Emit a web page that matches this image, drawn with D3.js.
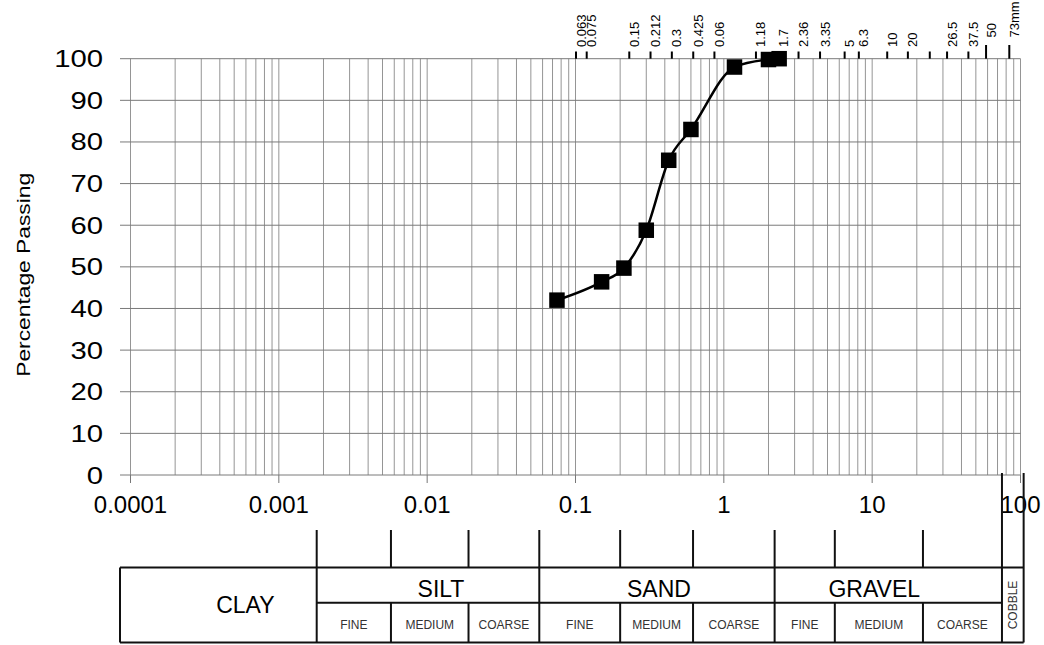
<!DOCTYPE html>
<html>
<head>
<meta charset="utf-8">
<script src="https://cdn.jsdelivr.net/npm/d3@7"></script>
<style>
  body { margin: 0; background: #fff; }
  text { font-family: "Liberation Sans", Arial, sans-serif; fill: #000; }
</style>
</head>
<body>
<div id="chart"></div>
<script>
// Sieve test results: particle size (mm) and percentage passing
const sieveSizes = [0.075, 0.15, 0.212, 0.3, 0.425, 0.6, 1.18, 2.0, 2.36];
const percentPassing = [42, 46.4, 49.7, 58.8, 75.6, 83.0, 98.0, 99.8, 100];

// Bottom axis decades and y ticks
const decadeTicks = [0.0001, 0.001, 0.01, 0.1, 1, 10, 100];
const decadeLabels = ["0.0001", "0.001", "0.01", "0.1", "1", "10", "100"];
const percentTicks = [0, 10, 20, 30, 40, 50, 60, 70, 80, 90, 100];

// Top axis: sieve apertures as printed on the sheet
const topTickValues = [0.063, 0.075, 0.15, 0.212, 0.3, 0.425, 0.6, 1.18, 1.7, 2.36, 3.35, 5, 6.3, 10, 14, 20, 26.5, 37.5, 50, 73];
const topTickLabels = ["0.063", "0.075", "0.15", "0.212", "0.3", "0.425", "0.06", "1.18", "1.7", "2.36", "3.35", "5", "6.3", "10", "20", "", "26.5", "37.5", "50", "73mm"];
const topLongTicks = [50, 73];

// Soil classification boundaries (mm) and names
const classBounds = [0.0018, 0.0057, 0.019, 0.057, 0.2, 0.62, 2.2, 5.6, 22, 75, 105];
const mainClasses = ["SILT", "SAND", "GRAVEL"];
const subClasses = ["FINE", "MEDIUM", "COARSE"];

const W = 1044, H = 645;
const plotLeft = 120;
const tableTop = 567.5, tableMid = 602.7, tableBottom = 642.5;

const svg = d3.select("#chart")
  .append("svg")
  .attr("width", W)
  .attr("height", H);

const x = d3.scaleLog().domain([0.0001, 100]).range([130.5, 1020.5]);
const y = d3.scaleLinear().domain([0, 100]).range([475, 58.7]);
const xTop = d3.scaleLog().domain([0.063, 73]).range([576, 1009.3]);

// Vertical grid (log cycles)
svg.append("g")
  .selectAll("line")
  .data(x.ticks())
  .enter()
  .append("line")
  .attr("x1", d => x(d)).attr("x2", d => x(d))
  .attr("y1", y(0)).attr("y2", y(100))
  .attr("stroke", "#959595")
  .attr("stroke-width", 1);

// Horizontal grid
svg.append("g")
  .selectAll("line")
  .data(percentTicks)
  .enter()
  .append("line")
  .attr("x1", plotLeft).attr("x2", x(100))
  .attr("y1", d => y(d)).attr("y2", d => y(d))
  .attr("stroke", "#7a7a7a")
  .attr("stroke-width", 1);

// Decade ticks below the axis
svg.append("g")
  .selectAll("line")
  .data(decadeTicks)
  .enter()
  .append("line")
  .attr("x1", d => x(d)).attr("x2", d => x(d))
  .attr("y1", y(0)).attr("y2", y(0) + 8)
  .attr("stroke", "#777")
  .attr("stroke-width", 1);

// Bottom axis labels
svg.append("g")
  .selectAll("text")
  .data(decadeTicks)
  .enter()
  .append("text")
  .attr("x", d => x(d))
  .attr("y", 513)
  .attr("text-anchor", "middle")
  .style("font-size", "24px")
  .text((d, i) => decadeLabels[i]);

// Y axis labels (stretched a little, as on the sheet)
svg.append("g")
  .selectAll("text")
  .data(percentTicks)
  .enter()
  .append("text")
  .attr("transform", d => `translate(103,${y(d) + 8.5}) scale(1.22,1)`)
  .attr("text-anchor", "end")
  .style("font-size", "24px")
  .text(d => d);

svg.append("text")
  .attr("transform", `translate(30,${(y(0) + y(100)) / 2 + 8}) rotate(-90) scale(1.2,1)`)
  .attr("text-anchor", "middle")
  .style("font-size", "19px")
  .text("Percentage Passing");

// Top sieve ticks and labels
const topAxis = svg.append("g");
topAxis.selectAll("line")
  .data(topTickValues)
  .enter()
  .append("line")
  .attr("x1", d => xTop(d)).attr("x2", d => xTop(d))
  .attr("y1", d => topLongTicks.includes(d) ? 45 : 51.5)
  .attr("y2", y(100))
  .attr("stroke", "#000")
  .attr("stroke-width", 2);

topAxis.selectAll("text")
  .data(topTickValues)
  .enter()
  .append("text")
  .attr("transform", d => `translate(${xTop(d) + 9.5},${topLongTicks.includes(d) ? 37.5 : 47}) rotate(-90)`)
  .attr("text-anchor", "start")
  .style("font-size", "13px")
  .text((d, i) => topTickLabels[i]);

// Grading curve
const points = sieveSizes.map((s, i) => ({ size: s, pct: percentPassing[i] }));

svg.append("path")
  .datum(points)
  .attr("fill", "none")
  .attr("stroke", "#000")
  .attr("stroke-width", 2.5)
  .attr("d", d3.line()
    .x(d => x(d.size))
    .y(d => y(d.pct))
    .curve(d3.curveMonotoneX));

const ms = 15.5;
svg.append("g")
  .selectAll("rect")
  .data(points)
  .enter()
  .append("rect")
  .attr("x", d => x(d.size) - ms / 2)
  .attr("y", d => y(d.pct) - ms / 2)
  .attr("width", ms)
  .attr("height", ms)
  .attr("fill", "#000");

// Classification table
const table = svg.append("g")
  .attr("stroke", "#111")
  .attr("stroke-width", 2);

const xEnd = x(classBounds[10]);
table.append("line").attr("x1", plotLeft).attr("x2", xEnd).attr("y1", tableTop).attr("y2", tableTop);
table.append("line").attr("x1", plotLeft).attr("x2", xEnd).attr("y1", tableBottom).attr("y2", tableBottom);
table.append("line").attr("x1", plotLeft).attr("x2", plotLeft).attr("y1", tableTop).attr("y2", tableBottom);
table.append("line")
  .attr("x1", x(classBounds[0])).attr("x2", x(classBounds[9]))
  .attr("y1", tableMid).attr("y2", tableMid);

const mainIdx = [0, 3, 6];
table.selectAll(".bound")
  .data(classBounds)
  .enter()
  .append("line")
  .attr("class", "bound")
  .attr("x1", d => x(d)).attr("x2", d => x(d))
  .attr("y1", (d, i) => i >= 9 ? y(0) - 2 : 530)
  .attr("y2", (d, i) => (i >= 9 || mainIdx.includes(i)) ? tableBottom : tableTop);

// sub-division lines inside the table
table.selectAll(".sub")
  .data(classBounds.filter((d, i) => i < 9 && !mainIdx.includes(i)))
  .enter()
  .append("line")
  .attr("class", "sub")
  .attr("x1", d => x(d)).attr("x2", d => x(d))
  .attr("y1", tableMid).attr("y2", tableBottom);

// Labels
const labelShift = { CLAY: 27, SILT: 13, SAND: 2, GRAVEL: -14 };

svg.append("text")
  .attr("x", (plotLeft + x(classBounds[0])) / 2 + labelShift.CLAY)
  .attr("y", 613)
  .attr("text-anchor", "middle")
  .style("font-size", "23px")
  .text("CLAY");

svg.append("g")
  .selectAll("text")
  .data(mainClasses)
  .enter()
  .append("text")
  .attr("x", (d, i) => (x(classBounds[i * 3]) + x(classBounds[i * 3 + 3])) / 2 + labelShift[d])
  .attr("y", 596.5)
  .attr("text-anchor", "middle")
  .style("font-size", "23px")
  .text(d => d);

const subCells = d3.range(9).map(i => ({ name: subClasses[i % 3], a: classBounds[i], b: classBounds[i + 1] }));
svg.append("g")
  .selectAll("text")
  .data(subCells)
  .enter()
  .append("text")
  .attr("x", d => (x(d.a) + x(d.b)) / 2)
  .attr("y", 629)
  .attr("text-anchor", "middle")
  .style("font-size", "12px")
  .style("fill", "#333")
  .text(d => d.name);

svg.append("text")
  .attr("transform", `translate(${(x(classBounds[9]) + x(classBounds[10])) / 2 + 4.5},${(tableTop + tableBottom) / 2}) rotate(-90)`)
  .attr("text-anchor", "middle")
  .style("font-size", "12px")
  .style("fill", "#333")
  .text("COBBLE");
</script>
</body>
</html>
